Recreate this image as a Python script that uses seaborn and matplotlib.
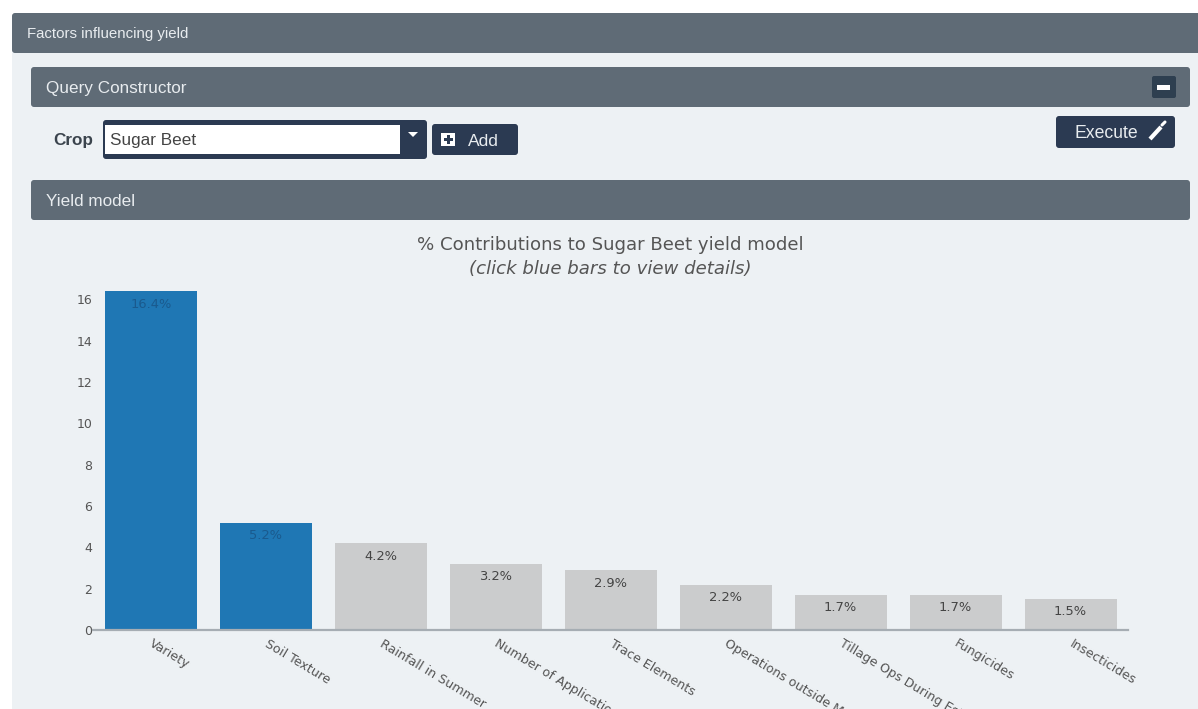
import matplotlib
matplotlib.use("Agg")
import matplotlib.pyplot as plt
from matplotlib.patches import FancyBboxPatch, Rectangle, Polygon
from matplotlib.transforms import ScaledTranslation
import pandas as pd
import seaborn as sns

factors = ["Variety", "Soil Texture", "Rainfall in Summer", "Number of Applications",
           "Trace Elements", "Operations outside Main Season", "Tillage Ops During Establishment",
           "Fungicides", "Insecticides"]
contributions = [16.4, 5.2, 4.2, 3.2, 2.9, 2.2, 1.7, 1.7, 1.5]
clickable = [True, True, False, False, False, False, False, False, False]

W, H = 1198, 709
PANEL = "#edf1f4"
HEADER = "#5f6b76"
NAVY = "#2b3a52"
UI_FONT = ["Liberation Sans", "DejaVu Sans"]

sns.set_theme(style="white")
plt.rcParams["font.family"] = ["DejaVu Sans"]

fig = plt.figure(figsize=(W / 100, H / 100), dpi=100, facecolor="white")

# Page furniture, laid out in pixel coordinates
ui = fig.add_axes([0, 0, 1, 1])
ui.set_xlim(0, W)
ui.set_ylim(H, 0)
ui.axis("off")


def box(x0, y0, x1, y1, color, radius=3, z=1):
    ui.add_patch(FancyBboxPatch((x0 + radius, y0 + radius), x1 - x0 - 2 * radius, y1 - y0 - 2 * radius,
                                boxstyle=f"round,pad={radius},rounding_size={radius}",
                                fc=color, ec="none", zorder=z))


def label(x, y, text, color="#e8ecef", size=12.3, weight="normal"):
    ui.text(x, y + 1, text, color=color, fontsize=size, weight=weight, family=UI_FONT,
            va="center", ha="left", zorder=5)


ui.add_patch(Rectangle((12, 50), W - 12, H - 50, fc=PANEL, ec="none", zorder=0))
box(12, 13, W + 8, 53, HEADER)
box(31, 67, 1190, 107, HEADER)
box(31, 180, 1190, 220, HEADER)
label(27, 33, "Factors influencing yield", size=10.8)
label(46, 87, "Query Constructor")
label(46, 200, "Yield model")

# Collapse button
box(1152, 76, 1176, 98, "#2e3f50", radius=2, z=2)
ui.add_patch(Rectangle((1157, 85), 13, 4.5, fc="white", ec="none", zorder=3))

# Crop selector
label(53, 140, "Crop", color="#3b444d", size=12.3, weight="bold")
box(103, 120, 427, 159, NAVY, radius=3, z=2)
ui.add_patch(Rectangle((105, 125), 295, 29, fc="white", ec="none", zorder=3))
label(110, 140, "Sugar Beet", color="#444444", size=12.3)
ui.add_patch(Polygon([(408, 132), (418, 132), (413, 137)], fc="white", ec="none", zorder=3))

# Add button
box(432, 124, 518, 155, NAVY, radius=3, z=2)
ui.add_patch(Rectangle((441, 133), 14, 13, fc="white", ec="none", zorder=3))
ui.add_patch(Rectangle((446.5, 135), 3, 9, fc=NAVY, ec="none", zorder=4))
ui.add_patch(Rectangle((443.5, 138), 9, 3, fc=NAVY, ec="none", zorder=4))
label(468, 140, "Add", size=12.5)

# Execute button
box(1056, 116, 1175, 148, NAVY, radius=3, z=2)
label(1074, 132, "Execute", size=12.7)
ui.plot([1150, 1161], [139, 127], color="white", lw=3, zorder=5, solid_capstyle="butt")
ui.plot([1162, 1165], [125, 122], color="white", lw=2.2, zorder=5)

# Contributions chart
x_left, x_right, y_top, y_bottom = 93.5, 1128, 291, 630
ax = fig.add_axes([x_left / W, 1 - y_bottom / H, (x_right - x_left) / W, (y_bottom - y_top) / H])
ax.patch.set_alpha(0)

df = pd.DataFrame({"factor": factors, "pct": contributions, "clickable": clickable})
sns.barplot(data=df, x="factor", y="pct", hue="clickable", dodge=False, legend=False,
            palette={True: "#1f77b4", False: "#cbcccd"}, width=0.8, saturation=1,
            linewidth=0, edgecolor="none", ax=ax)
ax.set_xlim(-0.5, 8.5)
ax.set_ylim(0, max(contributions))
ax.set_xlabel("")
ax.set_ylabel("")
ax.set_yticks(range(0, 17, 2))

for side in ("top", "right", "left"):
    ax.spines[side].set_visible(False)
ax.spines["bottom"].set_color("#a6adb3")
ax.spines["bottom"].set_linewidth(1.6)
ax.tick_params(axis="y", left=False, labelsize=9, labelcolor="#555555", pad=-5)
ax.tick_params(axis="x", bottom=False, pad=-1)
ax.set_xticks(range(len(factors)))
ax.set_xticklabels(factors, rotation=-31, ha="left", rotation_mode="anchor",
                   fontsize=9.1, color="#555555")

# Nudge the slanted category labels to the right of their anchors
nudge = ScaledTranslation(3 / fig.dpi, 0, fig.dpi_scale_trans)
for tick in ax.get_xticklabels():
    tick.set_transform(tick.get_transform() + nudge)

for i, (value, blue) in enumerate(zip(contributions, clickable)):
    ax.annotate(f"{value:.1f}%", (i, value), xytext=(0, -13), textcoords="offset pixels",
                ha="center", va="center", fontsize=9.4,
                color="#1a5a8e" if blue else "#444444")

fig.text(610 / W, 1 - 245 / H, "% Contributions to Sugar Beet yield model",
         ha="center", va="center", fontsize=13.1, color="#555555")
fig.text(610 / W, 1 - 269 / H, "(click blue bars to view details)",
         ha="center", va="center", fontsize=13.1, style="italic", color="#555555")

fig.savefig("out.png", dpi=100)
